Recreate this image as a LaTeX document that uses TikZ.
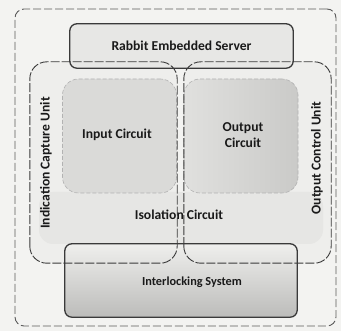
\documentclass[tikz,border=0pt]{standalone}
\usepackage{fontspec}
\setmainfont{Carlito}
\definecolor{paper}{HTML}{F3F3F1}
\definecolor{ink}{HTML}{1A1A1A}
\definecolor{edge}{HTML}{3A3A3A}
\definecolor{dashgray}{HTML}{5A5A5A}
\definecolor{unitfill}{HTML}{EEEEEC}
\definecolor{isofill}{HTML}{E6E6E4}
\definecolor{infill}{HTML}{DADAD8}
\definecolor{outlight}{HTML}{E0E0DE}
\definecolor{outdark}{HTML}{CACAC8}
\definecolor{serverfill}{HTML}{E7E7E5}
\definecolor{lockhigh}{HTML}{EFEFED}
\definecolor{locklow}{HTML}{BCBCBA}
\tikzset{
  lbl/.style={font=\bfseries\fontsize{13.6}{16}\selectfont, text=ink, inner sep=0pt, align=center},
  framebox/.style={rectangle, inner sep=0pt, draw=dashgray, line width=0.9pt,
    dash pattern=on 8pt off 3pt, rounded corners=9pt},
  unitbox/.style={rectangle, inner sep=0pt, minimum width=147pt, minimum height=201pt,
    fill=unitfill, rounded corners=17pt},
  unitline/.style={draw=edge, line width=0.9pt, dash pattern=on 9pt off 2pt, rounded corners=17pt},
  circuitbox/.style={rectangle, inner sep=0pt, minimum width=114pt, minimum height=114pt,
    rounded corners=16pt, draw=gray!60, line width=0.6pt, dash pattern=on 4pt off 2pt},
  solidbox/.style={rectangle, inner sep=0pt, rounded corners=7pt},
  solidline/.style={draw=edge, line width=1.3pt, rounded corners=7pt},
}
\begin{document}
\begin{tikzpicture}[x=1pt, y=-1pt]
  \path[use as bounding box, fill=paper] (0,0) rectangle (341,331);

  % outer dashed frame
  \node[framebox, minimum width=321pt, minimum height=317pt] (frame) at (175.5,167.5) {};

  % the two units
  \node[unitbox] (capture) at (103.5,162.5) {};
  \node[unitbox] (control) at (257.5,162.5) {};

  % isolation band under the circuits
  \node[rectangle, inner sep=0pt, minimum width=284pt, minimum height=52pt,
        rounded corners=14pt, fill=isofill] (isolation) at (181,218) {};

  % input and output circuits
  \node[circuitbox, fill=infill] (input) at (119.5,136) {};
  \node[circuitbox, left color=outlight, right color=outdark] (output) at (241,136) {};

  % server and interlocking boxes (fills)
  \node[solidbox, minimum width=223pt, minimum height=44pt, fill=serverfill] (server) at (181.5,46) {};
  \node[solidbox, minimum width=232pt, minimum height=73pt,
        top color=lockhigh, bottom color=locklow] (lock) at (181,280.5) {};

  % unit outlines over the box fills
  \draw[unitline] (capture.south west) rectangle (capture.north east);
  \draw[unitline] (control.south west) rectangle (control.north east);

  % box outlines
  \draw[solidline] (server.south west) rectangle (server.north east);
  \draw[solidline] (lock.south west) rectangle (lock.north east);

  % labels
  \node[lbl] (serverlbl) at (server.center) {Rabbit Embedded Server};
  \node[lbl] (inputlbl) at (117,135) {Input Circuit};
  \node[lbl] (outputlbl) at (243,135) {Output\\Circuit};
  \node[lbl] (isolbl) at (179,215) {Isolation Circuit};
  \node[lbl, font=\bfseries\fontsize{12.3}{15}\selectfont] (locklbl) at (192,282) {Interlocking System};
  \node[lbl, rotate=90] (capturelbl) at (46,163) {Indication Capture Unit};
  \node[lbl, rotate=90] (controllbl) at (317,158) {Output Control Unit};
\end{tikzpicture}
\end{document}
